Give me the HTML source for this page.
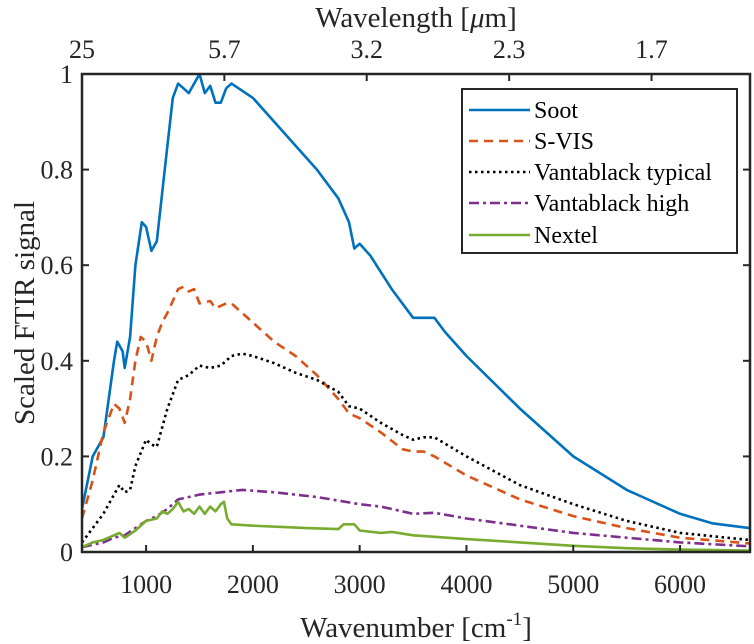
<!DOCTYPE html>
<html><head><meta charset="utf-8"><style>
html,body{margin:0;padding:0;background:#fff;}
svg{display:block;font-family:"Liberation Serif",serif;}
</style></head><body>
<svg id="chart" width="754" height="644" viewBox="0 0 754 644"></svg>
<script>
const xTicks=[1000,2000,3000,4000,5000,6000];
const yTicks=[0,0.2,0.4,0.6,0.8,1];
const yTickLabels=["0","0.2","0.4","0.6","0.8","1"];
const topTicks=[400,1733,3066,4400,5733];
const topTickLabels=["25","5.7","3.2","2.3","1.7"];
const seriesNames=["Soot","S-VIS","Vantablack typical","Vantablack high","Nextel"];
const sootX=[400,500,600,700,730,780,800,850,900,960,1000,1050,1100,1150,1200,1250,1300,1350,1400,1450,1500,1550,1600,1650,1700,1750,1800,2000,2200,2400,2600,2800,2900,2950,3000,3100,3300,3500,3600,3700,3800,4000,4500,5000,5500,6000,6300,6650];
const sootY=[0.09,0.2,0.24,0.4,0.44,0.42,0.385,0.45,0.6,0.69,0.68,0.63,0.65,0.75,0.85,0.95,0.98,0.97,0.96,0.98,1.0,0.96,0.975,0.94,0.94,0.97,0.98,0.95,0.9,0.85,0.8,0.74,0.69,0.635,0.645,0.62,0.55,0.49,0.49,0.49,0.46,0.41,0.3,0.2,0.13,0.08,0.06,0.05];
const svisX=[400,500,600,700,750,800,850,900,950,1000,1050,1100,1150,1200,1300,1350,1400,1450,1500,1600,1650,1750,1800,2000,2200,2400,2600,2800,2900,3000,3200,3400,3500,3600,3700,4000,4500,5000,5500,6000,6650];
const svisY=[0.07,0.15,0.25,0.31,0.3,0.27,0.32,0.4,0.45,0.44,0.4,0.45,0.48,0.5,0.55,0.555,0.545,0.55,0.52,0.525,0.51,0.52,0.52,0.48,0.44,0.41,0.37,0.32,0.29,0.28,0.25,0.215,0.21,0.21,0.2,0.16,0.11,0.075,0.05,0.03,0.018];
const vtX=[400,500,600,700,750,800,850,900,1000,1050,1100,1200,1300,1400,1500,1600,1700,1800,1900,2000,2200,2400,2600,2800,2900,3000,3200,3400,3500,3600,3700,4000,4500,5000,5500,6000,6650];
const vtY=[0.02,0.05,0.08,0.12,0.14,0.125,0.13,0.18,0.235,0.225,0.22,0.3,0.36,0.37,0.39,0.385,0.39,0.41,0.415,0.41,0.395,0.375,0.36,0.335,0.305,0.3,0.27,0.245,0.235,0.24,0.24,0.2,0.14,0.1,0.065,0.04,0.025];
const vhX=[400,600,700,800,900,1000,1100,1200,1300,1500,1700,1900,2200,2600,3000,3200,3500,3700,4000,4500,5000,5500,6000,6650];
const vhY=[0.01,0.02,0.03,0.035,0.05,0.065,0.075,0.09,0.11,0.12,0.125,0.13,0.125,0.115,0.1,0.095,0.08,0.082,0.07,0.055,0.04,0.03,0.02,0.012];
const nxX=[400,500,600,700,750,800,900,1000,1100,1150,1200,1250,1300,1350,1400,1450,1500,1550,1600,1650,1700,1730,1760,1800,2000,2500,2800,2850,2950,3000,3200,3300,3500,4000,4500,5000,5500,6000,6650];
const nxY=[0.01,0.02,0.025,0.035,0.04,0.03,0.045,0.065,0.07,0.085,0.08,0.09,0.105,0.085,0.09,0.08,0.095,0.08,0.095,0.085,0.1,0.105,0.07,0.058,0.055,0.05,0.048,0.058,0.058,0.045,0.04,0.042,0.035,0.027,0.02,0.013,0.008,0.005,0.003];

const L=82,R=750,T=74,B=552,XMIN=400,XMAX=6655;
const sx=v=>L+(v-XMIN)/(XMAX-XMIN)*(R-L);
const sy=v=>B-v*(B-T);
const NS="http://www.w3.org/2000/svg";
const svg=document.getElementById('chart');
function mk(tag,attrs,parent){const e=document.createElementNS(NS,tag);for(const k in attrs)e.setAttribute(k,attrs[k]);(parent||svg).appendChild(e);return e;}

const clip=mk('clipPath',{id:'pc'});mk('rect',{x:L,y:T,width:R-L,height:B-T},clip);
const styles=[
 {c:'#0072BD',d:''},{c:'#D95319',d:'9,6'},{c:'#000000',d:'2.5,3.5'},{c:'#7E2F8E',d:'10,4,3,4'},{c:'#77AC30',d:''}];
const dataX=[sootX,svisX,vtX,vhX,nxX],dataY=[sootY,svisY,vtY,vhY,nxY];
const names=['soot-line','s-vis-line','vantablack-typical-line','vantablack-high-line','nextel-line'];
for(let s=0;s<5;s++){
  const pts=dataX[s].map((x,i)=>sx(x).toFixed(1)+','+sy(dataY[s][i]).toFixed(1)).join(' ');
  const p=mk('polyline',{points:pts,fill:'none',stroke:styles[s].c,'stroke-width':2.6,'stroke-dasharray':styles[s].d,'clip-path':'url(#pc)','stroke-linejoin':'round'});
  
  
}
// frame
const fr=mk('rect',{x:L,y:T,width:R-L,height:B-T,fill:'none',stroke:'#262626','stroke-width':2.5});


xTicks.forEach(v=>{
  const x=sx(v);
  mk('line',{x1:x,y1:B,x2:x,y2:B-7,stroke:'#262626','stroke-width':2});
  const t=mk('text',{x:x,y:593,'font-size':26,'text-anchor':'middle',fill:'#262626'});t.textContent=v;
  
  
});
yTicks.forEach((v,i)=>{
  const y=sy(v);
  mk('line',{x1:L,y1:y,x2:L+7,y2:y,stroke:'#262626','stroke-width':2});
  mk('line',{x1:R,y1:y,x2:R-7,y2:y,stroke:'#262626','stroke-width':2});
  const t=mk('text',{x:73,y:y+9,'font-size':26,'text-anchor':'end',fill:'#262626'});t.textContent=yTickLabels[i];
  
  
});
topTicks.forEach((v,i)=>{
  const x=sx(v);
  mk('line',{x1:x,y1:T,x2:x,y2:T+7,stroke:'#262626','stroke-width':2});
  const t=mk('text',{x:x,y:58,'font-size':26,'text-anchor':'middle',fill:'#262626'});t.textContent=topTickLabels[i];
  
  
});
</script>
<svg width="0" height="0"></svg>
<script>
(function(){
const svg=document.getElementById('chart');const NS="http://www.w3.org/2000/svg";
function mk(tag,attrs,parent){const e=document.createElementNS(NS,tag);for(const k in attrs)e.setAttribute(k,attrs[k]);(parent||svg).appendChild(e);return e;}
const tt=mk('text',{x:416,y:27,'font-size':29,'text-anchor':'middle',fill:'#262626'});
tt.innerHTML='Wavelength [<tspan font-style="italic">μ</tspan>m]';


const xt=mk('text',{x:416,y:637,'font-size':29,'text-anchor':'middle',fill:'#262626'});
xt.innerHTML='Wavenumber [cm<tspan dy="-12" font-size="19">-1</tspan><tspan dy="12">]</tspan>';


const yt=mk('text',{x:0,y:0,'font-size':29,'text-anchor':'middle',fill:'#262626',transform:'translate(34,313) rotate(-90)'});
yt.textContent='Scaled FTIR signal';


const lg=mk('g',{});


mk('rect',{x:462,y:89,width:275,height:164,fill:'#fff',stroke:'#262626','stroke-width':2},lg);
const cols=['#0072BD','#D95319','#000000','#7E2F8E','#77AC30'];
const dash=['','9,6','2.5,3.5','10,4,3,4',''];
const labels=seriesNames;
const ys=[110,141,172,203,235];
labels.forEach((n,i)=>{
  const g=mk('g',{},lg);
  
  
  mk('line',{x1:469,y1:ys[i],x2:530,y2:ys[i],stroke:cols[i],'stroke-width':2.6,'stroke-dasharray':dash[i]},g);
  const t=mk('text',{x:534,y:ys[i]+8,'font-size':24,fill:'#000'},g);t.textContent=n;
});
})();
</script>
</body></html>
